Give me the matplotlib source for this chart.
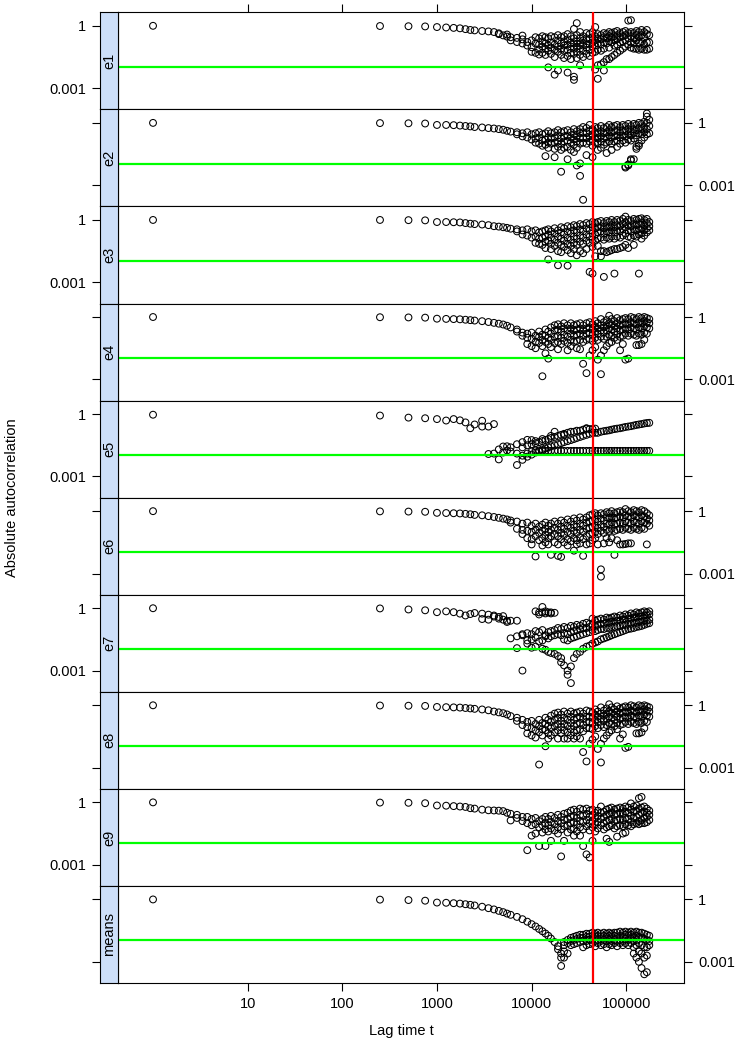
import numpy as np
import matplotlib
matplotlib.use("Agg")
from matplotlib import pyplot as plt
from matplotlib.ticker import NullLocator, FixedLocator, FixedFormatter

plt.rcParams['font.family'] = ['Liberation Sans', 'DejaVu Sans']

# lag columns (time steps)
lags = [1, 250, 500, 750, 1000, 1250, 1500, 1750, 2000, 2250, 2500, 3000, 3500, 4000, 4500,
        5000, 5500, 6000, 7000, 8000, 9000, 10000, 11000, 12000, 13000, 14000, 15000, 16000,
        17500, 19000, 20500, 22000, 24000, 26000, 28000, 30000, 32500, 35000, 38000, 41000,
        44000, 47000, 50000, 54000, 58000, 62000, 66000, 70000, 75000, 80000, 86000, 92000,
        98000, 105000, 112000, 120000, 128000, 136000, 145000, 155000, 165000, 175000]

e1 = [[0.0], [-0.01], [-0.02], [-0.03], [-0.06], [-0.08], [-0.1], [-0.12], [-0.16], [-0.2], [-0.22],
      [-0.25], [-0.27], [-0.3], [-0.4, -0.36], [-0.46], [-0.42, -0.52], [-0.55, -0.7], [-0.58, -0.78],
      [-0.47, -0.65, -0.85], [-0.78, -0.95], [-0.7, -1.03, -1.25], [-0.55, -0.85, -1.3],
      [-0.6, -0.9, -1.15, -1.38], [-0.5, -0.75, -1.0, -1.3], [-0.55, -0.85, -1.1, -1.4],
      [-0.6, -0.95, -1.2, -2.0], [-0.5, -0.8, -1.05, -1.35], [-0.55, -0.9, -1.15, -1.5, -2.35],
      [-0.45, -0.7, -1.0, -1.25, -2.15], [-0.55, -0.85, -1.1, -1.4], [-0.5, -0.75, -0.95, -1.2, -1.55],
      [-0.4, -0.65, -0.9, -1.15, -1.45, -2.25], [-0.5, -0.8, -1.0, -1.3, -1.6],
      [-0.15, -0.6, -0.85, -1.1, -1.35, -2.6, -2.45], [0.13, -0.45, -0.75, -1.0, -1.25, -1.55],
      [-0.3, -0.6, -0.85, -1.1, -1.4, -1.9], [-0.5, -0.7, -0.95, -1.2, -1.5],
      [-0.35, -0.6, -0.85, -1.05, -1.35], [-0.4, -0.65, -0.9, -1.15, -1.45],
      [-0.3, -0.55, -0.8, -1.0, -1.3], [-0.06, -0.5, -0.7, -0.95, -1.25, -2.1],
      [-0.4, -0.6, -0.85, -1.15, -1.9, -2.55], [-0.45, -0.65, -0.9, -1.2, -1.85],
      [-0.35, -0.55, -0.8, -1.1, -1.75, -2.15], [-0.4, -0.6, -0.85, -1.6],
      [-0.3, -0.5, -0.75, -1.05, -1.6], [-0.35, -0.55, -0.8, -1.5], [-0.3, -0.5, -0.7, -0.95, -1.4],
      [-0.25, -0.45, -0.65, -0.9, -1.3], [-0.35, -0.55, -0.8, -1.2], [-0.3, -0.5, -0.75, -1.1],
      [-0.25, -0.45, -0.7, -1.0], [0.25, -0.35, -0.6, -0.9], [0.27, -0.3, -0.5, -0.8, -1.05],
      [-0.35, -0.6, -0.85, -1.1], [-0.25, -0.45, -0.7, -1.1], [-0.3, -0.55, -0.8, -1.15],
      [-0.2, -0.45, -0.75, -1.1], [-0.3, -0.55, -0.9, -1.15], [-0.2, -0.4, -0.8, -1.15],
      [-0.45, -0.8, -1.1]]

e2 = [[0.0], [-0.01], [-0.02], [-0.03], [-0.1], [-0.1], [-0.11], [-0.13], [-0.15], [-0.17], [-0.2],
      [-0.22], [-0.25], [-0.27], [-0.3], [-0.33], [-0.38], [-0.42], [-0.45, -0.55], [-0.5, -0.65],
      [-0.45, -0.7], [-0.55, -0.8], [-0.5, -0.75, -0.95], [-0.45, -0.7, -1.0], [-0.55, -0.85, -1.1],
      [-0.5, -0.8, -1.05, -1.6], [-0.4, -0.7, -0.95, -1.2], [-0.5, -0.75, -1.0],
      [-0.45, -0.7, -0.95, -1.25, -1.65], [-0.35, -0.6, -0.9, -1.15], [-0.45, -0.75, -1.0, -1.3, -2.35],
      [-0.4, -0.65, -0.9, -1.2], [-0.35, -0.6, -0.85, -1.15, -1.75], [-0.45, -0.7, -0.95, -1.3],
      [-0.3, -0.55, -0.8, -1.05, -1.4], [-0.4, -0.65, -0.9, -1.2, -2.05],
      [-0.3, -0.5, -0.75, -1.0, -2.55, -1.95], [-0.2, -0.45, -0.7, -0.95, -3.7],
      [-0.25, -0.5, -0.75, -1.0, -1.55], [-0.1, -0.4, -0.65, -0.9], [-0.3, -0.55, -0.8, -1.1, -1.65],
      [-0.2, -0.45, -0.7, -0.95], [-0.25, -0.5, -0.75, -1.0, -1.3], [-0.15, -0.4, -0.65, -0.9, -1.2],
      [-0.25, -0.5, -0.75, -1.05], [-0.2, -0.45, -0.7, -0.95, -1.45], [-0.1, -0.35, -0.6, -0.9],
      [-0.2, -0.45, -0.7, -1.0, -1.3], [-0.15, -0.4, -0.65, -0.9], [-0.1, -0.35, -0.6, -0.85, -1.15],
      [-0.2, -0.45, -0.7, -1.0], [-0.1, -0.35, -0.6, -0.85], [-0.15, -0.4, -0.65, -0.95, -2.1, -2.15],
      [-0.05, -0.3, -0.55, -0.8, -2.0, -2.05], [-0.15, -0.4, -0.6, -0.85, -1.8, -1.75],
      [-0.05, -0.3, -0.5, -0.75, -1.75], [-0.1, -0.35, -0.6, -1.15, -1.25], [0.0, -0.25, -0.5, -1.0, -1.1],
      [-0.05, -0.3, -0.55, -0.85], [0.05, -0.2, -0.45, -0.7], [0.45, 0.3, 0.0, -0.3, -0.55],
      [0.15, -0.15, -0.5]]

e3 = [[0.0], [0.0], [-0.01], [-0.02], [-0.1], [-0.1], [-0.11], [-0.12], [-0.15], [-0.18], [-0.2],
      [-0.22], [-0.25], [-0.3], [-0.32], [-0.35], [-0.38], [-0.42], [-0.45, -0.55], [-0.5, -0.7],
      [-0.45, -0.75], [-0.55, -0.85], [-0.5, -0.8, -1.1], [-0.6, -0.9, -1.15], [-0.55, -0.85, -1.2],
      [-0.5, -0.8, -1.05, -1.35], [-0.45, -0.7, -1.0, -1.9], [-0.55, -0.85, -1.15, -1.4],
      [-0.4, -0.65, -0.95, -1.25], [-0.5, -0.8, -1.1, -1.5, -2.18], [-0.35, -0.6, -0.9, -1.2, -1.55],
      [-0.4, -0.7, -1.0, -1.3], [-0.3, -0.55, -0.85, -1.15, -1.45, -2.2],
      [-0.35, -0.65, -0.95, -1.25, -1.6], [-0.25, -0.5, -0.8, -1.1, -1.4],
      [-0.3, -0.6, -0.9, -1.2, -1.7], [-0.2, -0.45, -0.75, -1.05, -1.5],
      [-0.25, -0.55, -0.85, -1.15, -1.6], [-0.15, -0.4, -0.7, -1.0, -1.4],
      [-0.2, -0.5, -0.8, -1.1, -2.5], [-0.1, -0.35, -0.65, -0.95, -1.3, -2.58],
      [-0.15, -0.4, -0.7, -1.0, -1.75], [-0.1, -0.35, -0.6, -0.9, -1.25],
      [-0.05, -0.3, -0.55, -0.85, -1.5, -1.75], [-0.15, -0.4, -0.65, -0.95, -1.5, -2.74],
      [-0.05, -0.3, -0.55, -0.85, -1.55], [-0.1, -0.35, -0.6, -0.9, -1.5],
      [0.0, -0.25, -0.5, -0.8, -1.45], [-0.1, -0.35, -0.6, -0.9, -1.4, -2.58],
      [0.0, -0.25, -0.5, -0.8, -1.4], [-0.05, -0.3, -0.55, -0.85, -1.35],
      [0.05, -0.2, -0.45, -0.75, -1.3], [0.16, -0.1, -0.35, -0.65, -1.2],
      [0.0, -0.25, -0.5, -0.8, -1.35], [-0.05, -0.3, -0.55, -0.85], [0.05, -0.2, -0.45, -0.75, -1.2],
      [0.0, -0.25, -0.5, -0.8], [0.05, -0.2, -0.45, -0.7, -2.58], [0.08, -0.15, -0.4, -0.65, -0.9],
      [0.0, -0.25, -0.5, -0.75], [0.05, -0.15, -0.4, -0.6], [-0.1, -0.3, -0.5]]

e4 = [[0.0], [-0.01], [-0.02], [-0.03], [-0.08], [-0.09], [-0.1], [-0.11], [-0.13], [-0.15], [-0.17],
      [-0.2], [-0.24], [-0.28], [-0.32], [-0.36], [-0.42], [-0.5], [-0.6, -0.7], [-0.75, -0.9],
      [-0.8, -1.0, -1.3], [-0.75, -1.05, -1.4], [-0.9, -1.2, -1.5], [-0.7, -0.95, -1.25],
      [-0.85, -1.1, -1.4, -2.85], [-0.6, -0.9, -1.2, -1.75], [-0.7, -1.0, -1.3, -2.0],
      [-0.5, -0.8, -1.1, -1.45], [-0.4, -0.65, -0.95, -1.25], [-0.35, -0.6, -0.9, -1.2, -1.55],
      [-0.45, -0.7, -1.0, -1.3], [-0.3, -0.55, -0.85, -1.15], [-0.4, -0.65, -0.95, -1.25, -1.6],
      [-0.3, -0.55, -0.8, -1.1, -1.4], [-0.4, -0.65, -0.9, -1.2], [-0.35, -0.6, -0.85, -1.15, -1.5],
      [-0.3, -0.55, -0.8, -1.1, -1.55], [-0.4, -0.65, -0.9, -1.2, -2.25],
      [-0.3, -0.55, -0.8, -1.1, -2.7], [-0.25, -0.5, -0.75, -1.05, -1.85],
      [-0.35, -0.6, -0.85, -1.15, -1.6], [-0.2, -0.45, -0.7, -1.0, -1.45],
      [-0.3, -0.55, -0.8, -1.1, -2.05], [-0.1, -0.4, -0.65, -0.95, -2.75, -1.85],
      [-0.25, -0.5, -0.75, -1.05, -1.6], [-0.15, -0.4, -0.65, -0.95, -1.4],
      [0.06, -0.3, -0.55, -0.85, -1.25], [-0.1, -0.35, -0.6, -0.9, -1.2], [-0.2, -0.45, -0.7, -1.0],
      [-0.05, -0.3, -0.55, -0.85, -1.1], [-0.15, -0.4, -0.65, -0.95, -1.6],
      [-0.1, -0.35, -0.6, -0.9, -1.3], [-0.05, -0.3, -0.55, -0.8, -2.05],
      [-0.1, -0.35, -0.6, -0.9, -2.0], [0.0, -0.25, -0.5, -0.8], [-0.05, -0.3, -0.55, -0.85],
      [-0.1, -0.35, -0.6, -0.9, -1.35], [0.0, -0.25, -0.5, -0.8, -1.35],
      [-0.05, -0.3, -0.55, -0.85, -1.3], [0.0, -0.2, -0.45, -0.75, -1.1], [-0.05, -0.25, -0.5, -0.8],
      [-0.1, -0.3, -0.55]]

e5 = [[-0.03], [-0.07], [-0.17], [-0.2], [-0.24], [-0.31], [-0.24], [-0.3], [-0.4], [-0.68], [-0.5],
      [-0.6, -0.32], [-0.6, -1.92], [-0.48, -1.9], [-2.18, -1.7], [-1.56, -1.85], [-1.55, -1.75],
      [-1.8, -1.6], [-2.45, -1.45, -1.9], [-2.2, -1.35, -1.6, -2.0], [-1.24, -1.5, -1.9, -2.05],
      [-1.8, -1.95, -1.45, -1.25], [-1.75, -1.85, -1.4, -1.3], [-1.75, -1.8, -1.35],
      [-1.77, -1.7, -1.3, -1.2], [-1.77, -1.65, -1.25], [-1.77, -1.6, -1.2],
      [-1.77, -1.55, -1.15, -1.05], [-1.77, -1.5, -1.1, -0.85], [-1.77, -1.45, -1.05],
      [-1.77, -1.4, -1.0], [-1.77, -1.35, -0.95, -1.0], [-1.77, -1.3, -0.9], [-1.77, -1.25, -0.85],
      [-1.77, -1.2, -0.85], [-1.77, -1.15, -0.8], [-1.77, -1.1, -0.8], [-1.77, -1.05, -0.75],
      [-1.77, -1.0, -0.7, -0.68], [-1.77, -0.95, -0.72], [-1.77, -0.9, -0.72], [-1.77, -0.9, -0.7],
      [-1.77, -0.9], [-1.77, -0.85], [-1.77, -0.82], [-1.77, -0.8], [-1.77, -0.78], [-1.77, -0.75],
      [-1.77, -0.72], [-1.77, -0.7], [-1.77, -0.68], [-1.77, -0.65], [-1.77, -0.62], [-1.77, -0.6],
      [-1.77, -0.58], [-1.77, -0.55], [-1.77, -0.52], [-1.77, -0.5], [-1.77, -0.48], [-1.77, -0.45],
      [-1.77, -0.43], [-1.77, -0.42]]

e6 = [[0.0], [-0.01], [-0.02], [-0.03], [-0.08], [-0.09], [-0.1], [-0.11], [-0.13], [-0.15], [-0.18],
      [-0.2], [-0.24], [-0.28], [-0.32], [-0.36], [-0.4], [-0.45, -0.55], [-0.5, -0.85],
      [-0.6, -0.9, -1.1], [-0.55, -0.95, -1.3], [-0.7, -1.0, -1.35, -1.6], [-0.6, -0.9, -1.2, -2.18],
      [-0.75, -1.05, -1.4], [-0.65, -0.95, -1.3, -1.65], [-0.55, -0.85, -1.15, -1.5],
      [-0.7, -1.0, -1.3, -1.6], [-0.6, -0.9, -1.2, -2.1], [-0.5, -0.8, -1.1, -1.5],
      [-0.6, -0.9, -1.2, -1.6, -2.15], [-0.45, -0.75, -1.05, -1.35, -2.2], [-0.55, -0.85, -1.15, -1.5],
      [-0.4, -0.7, -1.0, -1.35, -1.65], [-0.5, -0.8, -1.1, -1.45], [-0.35, -0.65, -0.95, -1.3, -1.9],
      [-0.45, -0.75, -1.05, -1.4, -1.6], [-0.3, -0.6, -0.9, -1.25, -1.55],
      [-0.4, -0.7, -1.0, -1.35, -2.15], [-0.3, -0.55, -0.85, -1.2, -1.6],
      [-0.2, -0.5, -0.8, -1.1, -1.55], [-0.15, -0.45, -0.75, -1.05, -1.4],
      [-0.1, -0.4, -0.7, -1.0, -1.3], [-0.2, -0.5, -0.8, -1.1, -1.6],
      [-0.1, -0.35, -0.65, -0.95, -2.8, -3.15], [-0.15, -0.45, -0.75, -1.05, -1.55],
      [-0.05, -0.3, -0.6, -0.9, -1.3], [-0.1, -0.35, -0.65, -0.95, -1.5],
      [0.0, -0.3, -0.55, -0.85, -1.3], [-0.1, -0.35, -0.65, -0.95, -2.1],
      [-0.05, -0.3, -0.6, -0.9, -1.4], [0.0, -0.25, -0.55, -0.85, -1.6],
      [-0.05, -0.3, -0.6, -0.9, -1.6], [0.1, -0.2, -0.5, -0.8, -1.58],
      [0.0, -0.25, -0.55, -0.85, -1.55], [-0.05, -0.3, -0.6, -0.9, -1.55], [0.05, -0.2, -0.5, -0.8],
      [0.0, -0.25, -0.55, -0.85], [-0.05, -0.3, -0.6, -0.9], [0.05, -0.2, -0.5, -0.8],
      [0.0, -0.25, -0.55, -0.85], [-0.1, -0.35, -0.6, -1.6], [-0.2, -0.45, -0.7]]

e7 = [[0.0], [-0.01], [-0.06], [-0.1], [-0.19], [-0.15], [-0.19], [-0.26], [-0.35], [-0.28], [-0.23],
      [-0.52, -0.26], [-0.55, -0.31], [-0.35, -0.4], [-0.42, -0.5], [-0.38, -0.55], [-0.66, -0.6],
      [-0.6, -1.45], [-0.6, -1.35, -1.92], [-1.3, -1.25, -3.0], [-1.2, -1.7, -1.55],
      [-1.25, -1.5, -1.9], [-1.1, -1.4, -1.85, -0.15], [-1.15, -1.6, -0.2, -0.3],
      [-1.05, -1.55, -1.95, 0.06, -0.2], [-1.35, -1.3, -2.0, -0.25, -0.15], [-1.15, -1.45, -2.1, -0.2],
      [-1.1, -1.35, -2.15, -0.25, -0.2], [-1.05, -1.3, -2.2, -0.22], [-0.95, -1.25, -2.3],
      [-1.0, -1.3, -2.4, -2.6], [-0.9, -1.2, -1.5, -2.75], [-0.95, -1.25, -1.55, -3.0, -3.2],
      [-0.85, -1.15, -1.45, -3.6, -2.8], [-0.9, -1.1, -1.4, -2.4], [-0.8, -1.05, -1.35, -2.2],
      [-0.85, -1.0, -1.3, -2.1], [-0.75, -0.95, -1.25, -1.95], [-0.7, -0.95, -1.2, -1.85],
      [-0.75, -0.9, -1.15, -1.8], [-0.5, -0.8, -1.05, -1.7], [-0.6, -0.85, -1.1, -1.65],
      [-0.55, -0.8, -1.05, -1.6], [-0.5, -0.75, -1.0, -1.5], [-0.55, -0.75, -1.0, -1.45],
      [-0.45, -0.7, -0.95, -1.4], [-0.5, -0.7, -0.95, -1.35], [-0.45, -0.65, -0.9, -1.3],
      [-0.4, -0.65, -0.9, -1.25], [-0.45, -0.6, -0.85, -1.2], [-0.35, -0.6, -0.85, -1.15],
      [-0.4, -0.55, -0.8, -1.1], [-0.3, -0.55, -0.8, -1.05], [-0.35, -0.5, -0.75, -1.0],
      [-0.25, -0.5, -0.75, -0.98], [-0.3, -0.45, -0.7, -0.95], [-0.2, -0.45, -0.7, -0.9],
      [-0.25, -0.4, -0.65, -0.88], [-0.2, -0.4, -0.65, -0.85], [-0.15, -0.35, -0.6, -0.8],
      [-0.2, -0.35, -0.6, -0.75], [-0.15, -0.3, -0.55, -0.72]]

e8 = [[0.0], [-0.01], [-0.02], [-0.03], [-0.08], [-0.09], [-0.1], [-0.11], [-0.13], [-0.15], [-0.17],
      [-0.2], [-0.24], [-0.3], [-0.34], [-0.38], [-0.44], [-0.52], [-0.6, -0.75], [-0.7, -0.95],
      [-0.8, -1.05, -1.35], [-0.75, -1.1, -1.45], [-0.9, -1.2, -1.55], [-0.7, -1.0, -1.3, -2.85],
      [-0.85, -1.15, -1.45], [-0.6, -0.9, -1.2, -1.97], [-0.7, -1.0, -1.35, -1.6],
      [-0.5, -0.8, -1.1, -1.45], [-0.4, -0.7, -1.0, -1.3], [-0.35, -0.6, -0.9, -1.2, -1.6],
      [-0.45, -0.75, -1.05, -1.35], [-0.3, -0.6, -0.9, -1.2, -1.6], [-0.4, -0.7, -1.0, -1.3, -1.6],
      [-0.3, -0.55, -0.85, -1.15, -1.45], [-0.4, -0.7, -1.0, -1.3, -1.6],
      [-0.35, -0.6, -0.9, -1.2, -1.5], [-0.3, -0.55, -0.85, -1.15, -1.6],
      [-0.4, -0.65, -0.95, -1.25, -2.25], [-0.25, -0.55, -0.8, -1.1, -2.7],
      [-0.3, -0.55, -0.8, -1.1, -1.85], [-0.35, -0.6, -0.85, -1.15, -1.65],
      [-0.2, -0.45, -0.7, -1.0, -1.5], [-0.3, -0.55, -0.8, -1.1, -2.1],
      [-0.1, -0.4, -0.65, -0.95, -2.75, -1.85], [-0.25, -0.5, -0.75, -1.05, -1.6],
      [-0.15, -0.4, -0.65, -0.95, -1.45], [0.05, -0.3, -0.55, -0.85, -1.3],
      [-0.1, -0.35, -0.6, -0.9, -1.2], [-0.2, -0.45, -0.7, -1.0], [-0.05, -0.3, -0.55, -0.85, -1.15],
      [-0.15, -0.4, -0.65, -0.95, -1.6], [-0.1, -0.35, -0.6, -0.9, -1.4],
      [-0.05, -0.3, -0.55, -0.8, -2.05], [-0.1, -0.35, -0.6, -0.9, -2.0], [0.0, -0.25, -0.5, -0.8],
      [-0.05, -0.3, -0.55, -0.85], [-0.1, -0.35, -0.6, -0.9, -1.35], [0.0, -0.25, -0.5, -0.8, -1.35],
      [-0.05, -0.3, -0.55, -0.85, -1.3], [0.0, -0.2, -0.45, -0.75, -1.1], [-0.05, -0.25, -0.5, -0.8],
      [-0.1, -0.3, -0.55]]

e9 = [[0.0], [-0.01], [-0.02], [-0.04], [-0.15], [-0.16], [-0.18], [-0.2], [-0.22], [-0.28], [-0.3],
      [-0.35], [-0.38], [-0.39], [-0.4], [-0.42], [-0.5], [-0.87, -0.55], [-0.6, -0.75], [-0.7, -0.9],
      [-0.7, -1.0, -2.3], [-0.8, -1.1, -1.6], [-0.75, -1.05, -1.5], [-0.9, -1.2, -2.1],
      [-0.8, -1.1, -1.45], [-0.7, -1.0, -1.3, -2.1], [-0.8, -1.1, -1.4], [-0.65, -0.95, -1.25, -1.85],
      [-0.75, -1.05, -1.35], [-0.6, -0.9, -1.2, -1.5], [-0.7, -1.0, -1.3, -2.6],
      [-0.55, -0.85, -1.15, -1.85], [-0.5, -0.8, -1.1, -1.45], [-0.4, -0.7, -1.0, -1.3],
      [-0.35, -0.65, -0.95, -1.25, -1.6], [-0.45, -0.75, -1.05, -1.4],
      [-0.3, -0.6, -0.9, -1.2, -1.6], [-0.35, -0.65, -0.95, -1.3, -2.1],
      [-0.3, -0.55, -0.85, -1.15, -2.5], [-0.4, -0.7, -1.0, -1.35, -2.65],
      [-0.35, -0.6, -0.9, -1.2, -1.85], [-0.5, -0.75, -1.05, -1.4], [-0.4, -0.65, -0.95, -1.25],
      [-0.2, -0.5, -0.8, -1.1], [-0.45, -0.7, -1.0, -1.3], [-0.35, -0.6, -0.9, -1.2, -1.75],
      [-0.3, -0.55, -0.85, -1.15, -1.9], [-0.25, -0.5, -0.8, -1.1], [-0.35, -0.6, -0.9, -1.25],
      [-0.3, -0.55, -0.85, -1.15, -1.65], [-0.25, -0.5, -0.8, -1.1], [-0.3, -0.55, -0.85, -1.15, -1.5],
      [-0.2, -0.45, -0.75, -1.05, -1.45], [-0.25, -0.5, -0.8, -1.1], [-0.05, -0.35, -0.65, -0.95, -1.15],
      [-0.2, -0.45, -0.75, -1.05], [-0.15, -0.4, -0.7, -1.0], [0.2, -0.3, -0.6, -0.9, -1.05],
      [0.26, -0.25, -0.5, -0.85, -1.0], [-0.2, -0.45, -0.75, -1.0], [-0.3, -0.5, -0.7, -0.95],
      [-0.4, -0.6, -0.85]]

means = [[0.0], [-0.01], [-0.03], [-0.06], [-0.15], [-0.16], [-0.18], [-0.2], [-0.23], [-0.26],
         [-0.29], [-0.35], [-0.42], [-0.48], [-0.55], [-0.61], [-0.68], [-0.74], [-0.84], [-0.95],
         [-1.07], [-1.19], [-1.3], [-1.42], [-1.53], [-1.64], [-1.75], [-1.88], [-2.05], [-2.25, -2.4],
         [-2.6, -3.2, -2.8], [-2.2, -2.5, -2.8, -2.05], [-1.95, -2.1, -2.6], [-1.85, -2.0, -2.2],
         [-1.8, -1.95, -2.15], [-1.75, -1.9, -2.1], [-1.7, -1.85, -2.05], [-1.7, -1.85, -2.0, -2.3],
         [-1.65, -1.8, -2.0, -2.2], [-1.65, -1.8, -1.95, -2.15], [-1.6, -1.75, -1.95, -2.1],
         [-1.65, -1.8, -2.0, -2.25], [-1.6, -1.75, -1.95, -2.1], [-1.65, -1.8, -2.0, -2.2],
         [-1.6, -1.75, -1.95, -2.15], [-1.65, -1.8, -2.0, -2.3], [-1.6, -1.75, -1.95, -2.15],
         [-1.65, -1.8, -2.0, -2.2], [-1.6, -1.75, -1.95, -2.1], [-1.6, -1.8, -2.0, -2.25],
         [-1.55, -1.75, -1.95, -2.1], [-1.6, -1.8, -2.0, -2.2], [-1.55, -1.7, -1.9, -2.1],
         [-1.6, -1.75, -1.95, -2.2], [-1.55, -1.7, -1.9, -2.1], [-1.6, -1.8, -2.0, -2.3, -2.6],
         [-1.55, -1.75, -1.95, -2.2, -2.8], [-1.6, -1.8, -2.1, -2.5, -3.0],
         [-1.6, -1.85, -2.2, -2.6, -3.3], [-1.65, -1.9, -2.3, -2.8, -3.6],
         [-1.7, -1.95, -2.3, -2.7, -3.5], [-1.75, -2.0, -2.2]]

names = ['e1', 'e2', 'e3', 'e4', 'e5', 'e6', 'e7', 'e8', 'e9', 'means']
panels = [e1, e2, e3, e4, e5, e6, e7, e8, e9, means]

thresh = 0.0107      # green reference level
cut_lag = 44000      # red vertical marker
xticks = [10, 100, 1000, 10000, 100000]
xlabels = ['10', '100', '1000', '10000', '100000']
yticks = [1, 0.001]
ylabels = ['1', '0.001']

W, H = 741, 1046
strip_l, left, right = 100, 118, 684
top, ph = 12.3, 97.07
fs = 10.5

fig = plt.figure(figsize=(W / 100, H / 100), dpi=100)

for k, (name, vals) in enumerate(zip(names, panels)):
    y0 = H - (top + ph * (k + 1))
    ax = fig.add_axes([left / W, y0 / H, (right - left) / W, ph / H])
    ax.set_xscale('log')
    ax.set_yscale('log')
    sax = fig.add_axes([strip_l / W, y0 / H, (left - strip_l) / W, ph / H], sharey=ax)

    xs = [lag for lag, v in zip(lags, vals) for _ in v]
    ys = [10 ** y for v in vals for y in v]
    ax.scatter(xs, ys, s=24, facecolors='none', edgecolors='black', linewidths=0.75, zorder=2)
    ax.axhline(thresh, color='#00ff00', lw=1.6, zorder=3)
    ax.axvline(cut_lag, color='#ff0000', lw=1.6, zorder=4)

    ax.set_xlim(10 ** -0.37, 10 ** 5.61)
    ax.set_ylim(10 ** -4.02, 10 ** 0.65)
    ax.xaxis.set_major_locator(FixedLocator(xticks))
    ax.xaxis.set_major_formatter(FixedFormatter(xlabels))
    ax.xaxis.set_minor_locator(NullLocator())
    ax.yaxis.set_major_locator(FixedLocator(yticks))
    ax.yaxis.set_major_formatter(FixedFormatter(ylabels))
    ax.yaxis.set_minor_locator(NullLocator())

    ax.tick_params(axis='both', which='major', length=6, width=0.8, labelsize=fs,
                   direction='out', pad=4)
    ax.tick_params(axis='y', left=False, labelleft=False, right=True, labelright=(k % 2 == 1))
    ax.tick_params(axis='x', top=(k == 0), labeltop=False,
                   bottom=(k == len(names) - 1), labelbottom=(k == len(names) - 1))
    for sp in ax.spines.values():
        sp.set_linewidth(0.8)

    sax.set_facecolor('#cddff9')
    sax.set_xticks([])
    sax.tick_params(axis='y', which='major', length=6, width=0.8, labelsize=fs, pad=4,
                    left=True, labelleft=(k % 2 == 0), right=False, labelright=False)
    for sp in sax.spines.values():
        sp.set_linewidth(0.8)
    sax.text(0.5, 0.5, name, transform=sax.transAxes, rotation=90, ha='center', va='center',
             fontsize=fs)

fig.text(12 / W, 1 - 497.7 / H, 'Absolute autocorrelation', rotation=90, ha='center',
         va='center', fontsize=fs)
fig.text(401 / W, 1 - 1031 / H, 'Lag time t', ha='center', va='center', fontsize=fs)

fig.savefig('out.png', dpi=100)
